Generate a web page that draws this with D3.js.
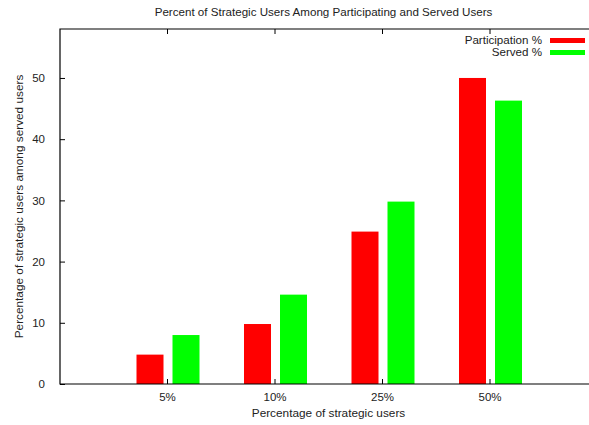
<!DOCTYPE html>
<html>
<head>
<meta charset="utf-8">
<script src="https://cdn.jsdelivr.net/npm/d3@7"></script>
<style>
  body { margin: 0; background: #fff; }
  text { font-family: "Liberation Sans", Arial, sans-serif; fill: #222; }
</style>
</head>
<body>
<svg id="chart" width="589" height="425"></svg>
<script>
// data
const categories = ["5%", "10%", "25%", "50%"];
const seriesNames = ["Participation %", "Served %"];
const participation = [4.8, 9.8, 24.9, 50.0];
const served = [8.0, 14.6, 29.8, 46.3];
const yTicks = [0, 10, 20, 30, 40, 50];
const colors = ["#ff0000", "#00ff00"];

var margin = { top: 29, left: 60, bottom: 41 },
    width = 537.5,
    height = 425 - margin.top - margin.bottom;

var svg = d3.select("#chart");
var g = svg.append("g")
    .attr("transform", "translate(" + margin.left + "," + margin.top + ")");

var rows = categories.map(function (c, i) {
    return { key: c, values: [participation[i], served[i]] };
});

// x: one band per category, half a step of empty space each side
var x = d3.scaleBand()
    .domain(categories)
    .range([0, width])
    .paddingInner(0)
    .paddingOuter(0.5);

// sub-band for the two bars around each tick
var xSub = d3.scaleBand()
    .domain(seriesNames)
    .range([-36, 36])
    .paddingInner(0.25)
    .paddingOuter(0.125);

var y = d3.scaleLinear()
    .domain([0, 58])
    .range([height, 0]);

// bars
g.selectAll("g.cat")
    .data(rows)
    .enter()
    .append("g")
    .attr("class", "cat")
    .attr("transform", function (d) { return "translate(" + (x(d.key) + x.bandwidth() / 2) + ",0)"; })
    .selectAll("rect")
    .data(function (d) { return d.values.map(function (v, i) { return { s: seriesNames[i], v: v, i: i }; }); })
    .enter()
    .append("rect")
    .attr("x", function (d) { return xSub(d.s) + 0.5; })
    .attr("y", function (d) { return y(d.v); })
    .attr("width", xSub.bandwidth())
    .attr("height", function (d) { return y(0) - y(d.v); })
    .style("fill", function (d) { return colors[d.i]; });

// y axis, ticks pointing inward
var yAxis = g.append("g")
    .call(d3.axisLeft(y).tickValues(yTicks).tickSizeInner(-5).tickSizeOuter(0).tickPadding(15));

// x axis at bottom, inward ticks
var xAxis = g.append("g")
    .attr("transform", "translate(0," + height + ")")
    .call(d3.axisBottom(x).tickSizeInner(-5).tickSizeOuter(0).tickPadding(9));

// mirrored ticks on top border
var xTop = g.append("g")
    .call(d3.axisTop(x).tickSizeInner(-5).tickSizeOuter(0).tickFormat(""));

[yAxis, xAxis, xTop].forEach(function (a) {
    a.select(".domain").remove();
    a.selectAll("line").attr("stroke", "#000");
    a.selectAll("text").style("font-size", "11.5px").attr("fill", "#222");
});

// border: left, top, bottom (right side runs off the page)
g.append("path")
    .attr("d", "M" + width + ",0H0V" + height + "H" + width)
    .attr("fill", "none")
    .attr("stroke", "#000")
    .attr("stroke-width", 1.2);

// title
svg.append("text")
    .attr("x", 323.5)
    .attr("y", 16)
    .attr("text-anchor", "middle")
    .style("font-size", "11.6px")
    .text("Percent of Strategic Users Among Participating and Served Users");

// axis labels
svg.append("text")
    .attr("x", 328.5)
    .attr("y", 417)
    .attr("text-anchor", "middle")
    .style("font-size", "11.8px")
    .text("Percentage of strategic users");

svg.append("text")
    .attr("transform", "translate(23," + (margin.top + height / 2) + ") rotate(-90)")
    .attr("text-anchor", "middle")
    .style("font-size", "11.8px")
    .text("Percentage of strategic users among served users");

// legend
var legend = svg.append("g");
seriesNames.forEach(function (name, i) {
    var ly = 44 + i * 12;
    legend.append("text")
        .attr("x", 542)
        .attr("y", ly)
        .attr("text-anchor", "end")
        .style("font-size", "11.6px")
        .text(name);
    legend.append("rect")
        .attr("x", 550)
        .attr("y", ly - 6)
        .attr("width", 35)
        .attr("height", 5)
        .style("fill", colors[i]);
});
</script>
</body>
</html>
